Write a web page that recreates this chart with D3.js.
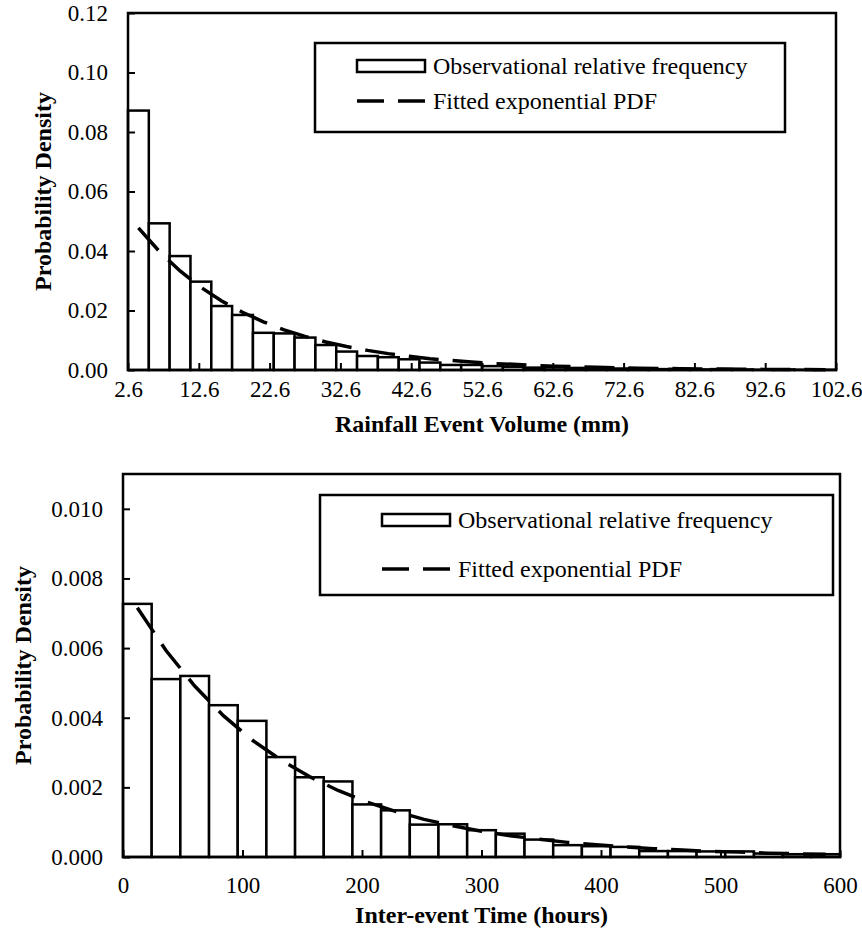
<!DOCTYPE html>
<html>
<head>
<meta charset="utf-8">
<script src="https://cdn.jsdelivr.net/npm/d3@7"></script>
<style>
  body { margin: 0; background: #fff; }
  svg text { font-family: "Liberation Serif", "Times New Roman", serif; fill: #000; }
</style>
</head>
<body>
<div id="chart"></div>
<script>
// rainfall event volume (mm), 34 bins between 2.6 and 102.6
const volumeRange = [2.6, 102.6];
const volumeTicks = [2.6, 12.6, 22.6, 32.6, 42.6, 52.6, 62.6, 72.6, 82.6, 92.6, 102.6];
const volumeFreq = [0.0872, 0.0493, 0.0383, 0.0297, 0.0215, 0.0185, 0.0125, 0.0123, 0.0109, 0.0084,
                    0.0062, 0.0047, 0.0043, 0.0036, 0.0025, 0.0017, 0.0017, 0.0013, 0.0011, 0.0008,
                    0.0009, 0.0007, 0.0005, 0.0005, 0.0004, 0.0003, 0.0004, 0.0002, 0.0003, 0.0002,
                    0.0001, 0.0002, 0.0001, 0.0001];
const volumePdf = [0.0478, 0.0399, 0.0333, 0.0278, 0.0232, 0.0194, 0.0162, 0.0135, 0.0113, 0.0094,
                   0.0079, 0.0066, 0.0055, 0.0046, 0.0038, 0.0032, 0.0027, 0.0022, 0.0019, 0.0015,
                   0.0013, 0.0011, 0.0009, 0.00075, 0.00063, 0.00052, 0.00044, 0.00036, 0.0003, 0.00025,
                   0.00021, 0.00018, 0.00015, 0.00012];
const volumeDensityTicks = [0, 0.02, 0.04, 0.06, 0.08, 0.10, 0.12];

// inter-event time (hours), 25 bins of 24 h
const gapRange = [0, 600];
const gapTicks = [0, 100, 200, 300, 400, 500, 600];
const gapFreq = [0.00727, 0.00511, 0.00520, 0.00436, 0.00391, 0.00287, 0.00229, 0.00217, 0.00151, 0.00134,
                 0.00093, 0.00094, 0.00077, 0.00067, 0.00050, 0.00034, 0.00031, 0.00029, 0.00017, 0.00017,
                 0.00016, 0.00016, 0.00010, 0.00008, 0.00008];
const gapPdf = [0.00716, 0.00593, 0.00491, 0.00406, 0.00336, 0.00279, 0.00231, 0.00191, 0.00158, 0.00131,
                0.00108, 0.00090, 0.00074, 0.00061, 0.00051, 0.00042, 0.00035, 0.00029, 0.00024, 0.00020,
                0.00016, 0.00014, 0.00011, 0.000093, 0.000077];
const gapDensityTicks = [0, 0.002, 0.004, 0.006, 0.008, 0.010];

const legendLabels = ["Observational relative frequency", "Fitted exponential PDF"];

const W = 862, H = 946;
const svg = d3.select("#chart").append("svg")
    .attr("width", W)
    .attr("height", H);

function drawPanel(p) {
    const x = d3.scaleLinear().domain(p.xRange).range([p.left, p.right]);
    const y = d3.scaleLinear().domain([0, p.yMax]).range([p.bottom, p.top]);
    const n = p.freq.length;
    const step = (p.xRange[1] - p.xRange[0]) / n;
    const g = svg.append("g");

    // histogram bars
    g.selectAll("rect.bar")
        .data(p.freq)
        .enter().append("rect")
        .attr("class", "bar")
        .attr("x", (d, i) => x(p.xRange[0] + i * step))
        .attr("width", (d, i) => x(p.xRange[0] + (i + 1) * step) - x(p.xRange[0] + i * step))
        .attr("y", d => y(d))
        .attr("height", d => y(0) - y(d))
        .attr("fill", "#fff")
        .attr("stroke", "#000")
        .attr("stroke-width", 2.5);

    // fitted pdf at bin centres
    const line = d3.line()
        .x((d, i) => x(p.xRange[0] + (i + 0.5) * step))
        .y(d => y(d));
    g.append("path")
        .datum(p.pdf)
        .attr("d", line)
        .attr("fill", "none")
        .attr("stroke", "#000")
        .attr("stroke-width", 3.5)
        .attr("stroke-dasharray", "30,14");

    // axes, ticks pointing inward
    const xAxis = g.append("g")
        .attr("transform", `translate(0,${p.bottom})`)
        .call(d3.axisBottom(x).tickValues(p.xTicks).tickSize(-7).tickPadding(p.xPad)
            .tickFormat(p.xFormat));
    const yAxis = g.append("g")
        .attr("transform", `translate(${p.left},0)`)
        .call(d3.axisLeft(y).tickValues(p.yTicks).tickSize(-7).tickPadding(20)
            .tickFormat(d3.format(p.yFormat)));
    [xAxis, yAxis].forEach(a => {
        a.select(".domain").remove();
        a.selectAll(".tick line").attr("stroke", "#000").attr("stroke-width", 2);
        a.selectAll(".tick text")
            .style("font-family", "'Liberation Serif', 'Times New Roman', serif")
            .style("font-size", "23px");
    });

    // plot frame
    g.append("rect")
        .attr("x", p.left).attr("y", p.top)
        .attr("width", p.right - p.left).attr("height", p.bottom - p.top)
        .attr("fill", "none")
        .attr("stroke", "#000")
        .attr("stroke-width", 2.5);

    // axis titles
    g.append("text")
        .attr("x", (p.left + p.right) / 2)
        .attr("y", p.xTitleY)
        .attr("text-anchor", "middle")
        .style("font-size", "24px")
        .style("font-weight", "bold")
        .text(p.xTitle);
    g.append("text")
        .attr("transform", `translate(${p.yTitleX},${(p.top + p.bottom) / 2}) rotate(-90)`)
        .attr("text-anchor", "middle")
        .attr("dy", "0.35em")
        .style("font-size", "24px")
        .style("font-weight", "bold")
        .text("Probability Density");

    // legend
    const L = p.legend;
    g.append("rect")
        .attr("x", L.x).attr("y", L.y).attr("width", L.w).attr("height", L.h)
        .attr("fill", "#fff").attr("stroke", "#000").attr("stroke-width", 2.5);
    g.append("rect")
        .attr("x", L.x + L.sx).attr("y", L.y1 - 6).attr("width", 68).attr("height", 12)
        .attr("fill", "#fff").attr("stroke", "#000").attr("stroke-width", 2.5);
    g.append("line")
        .attr("x1", L.x + L.sx).attr("x2", L.x + L.sx + 68)
        .attr("y1", L.y2).attr("y2", L.y2)
        .attr("stroke", "#000").attr("stroke-width", 3.5)
        .attr("stroke-dasharray", "27,14");
    g.selectAll("text.leg")
        .data(legendLabels)
        .enter().append("text")
        .attr("class", "leg")
        .attr("x", L.x + L.sx + 76)
        .attr("y", (d, i) => i === 0 ? L.y1 : L.y2)
        .attr("dy", "0.35em")
        .style("font-size", "24px")
        .text(d => d);
}

drawPanel({
    xRange: volumeRange, xTicks: volumeTicks, xFormat: d3.format(".1f"), xPad: 11,
    yMax: 0.12, yTicks: volumeDensityTicks, yFormat: ".2f",
    freq: volumeFreq, pdf: volumePdf,
    left: 128, right: 836, top: 13, bottom: 370,
    xTitle: "Rainfall Event Volume (mm)", xTitleY: 432, yTitleX: 43,
    legend: { x: 315, y: 43, w: 470, h: 89, sx: 42, y1: 66, y2: 101 }
});

drawPanel({
    xRange: gapRange, xTicks: gapTicks, xFormat: d3.format("d"), xPad: 20,
    yMax: 0.011, yTicks: gapDensityTicks, yFormat: ".3f",
    freq: gapFreq, pdf: gapPdf,
    left: 123, right: 840, top: 474, bottom: 857,
    xTitle: "Inter-event Time (hours)", xTitleY: 923, yTitleX: 23,
    legend: { x: 320, y: 495, w: 513, h: 100, sx: 62, y1: 520, y2: 569 }
});
</script>
</body>
</html>
